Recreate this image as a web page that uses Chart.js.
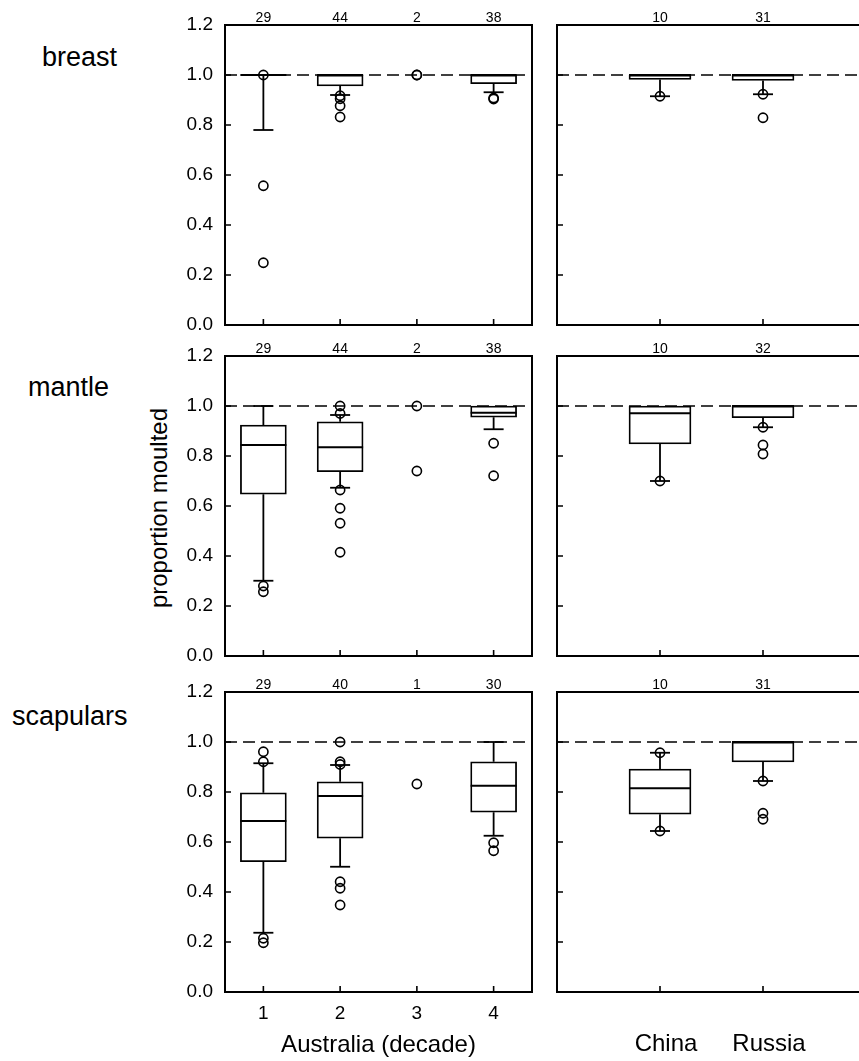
<!DOCTYPE html>
<html>
<head>
<meta charset="utf-8">
<title>proportion moulted</title>
<script src="https://cdn.jsdelivr.net/npm/chart.js@4.4.1/dist/chart.umd.min.js"></script>
<style>
  html, body { margin: 0; padding: 0; background: #fff; }
  body {
    position: relative;
    width: 859px;
    height: 1061px;
    overflow: hidden;
    font-family: "Liberation Sans", Arial, sans-serif;
    color: #000;
  }
  canvas { position: absolute; }
  .row-label { position: absolute; font-size: 27px; line-height: 27px; white-space: nowrap; }
  #yTitle {
    position: absolute;
    left: 9px;
    top: 496px;
    width: 300px;
    text-align: center;
    font-size: 24px;
    line-height: 24px;
    white-space: nowrap;
    transform: rotate(-90deg);
  }
</style>
</head>
<body>
<div class="row-label" style="left:42px; top:44px">breast</div>
<div class="row-label" style="left:28px; top:374px">mantle</div>
<div class="row-label" style="left:12px; top:703px">scapulars</div>
<div id="yTitle">proportion moulted</div>

<script>
"use strict";

// ---------- Data ----------
// every array: Australia decades 1-4, then China, Russia
const decades = ["1", "2", "3", "4"];
const regions = ["China", "Russia"];
const yTicks = [0, 0.2, 0.4, 0.6, 0.8, 1.0, 1.2];
const refValue = 1.0;

const breastN = [29, 44, 2, 38, 10, 31];
const breastLow = [0.78, 0.92, null, 0.931, 0.915, 0.923];
const breastQ1 = [1.0, 0.956, null, 0.965, 0.982, 0.978];
const breastMed = [1.0, 1.0, null, 1.0, 1.0, 1.0];
const breastQ3 = [1.0, 1.0, null, 1.0, 1.0, 1.0];
const breastHigh = [1.0, 1.0, null, 1.0, 1.0, 1.0];
const breastOut = [[1.0, 0.557, 0.249], [0.917, 0.905, 0.877, 0.832], [1.0, 1.0], [0.908, 0.904], [0.915], [0.923, 0.829]];

const mantleN = [29, 44, 2, 38, 10, 32];
const mantleLow = [0.301, 0.673, null, 0.907, 0.70, 0.915];
const mantleQ1 = [0.647, 0.737, null, 0.955, 0.848, 0.953];
const mantleMed = [0.844, 0.835, null, 0.973, 0.971, 1.0];
const mantleQ3 = [0.924, 0.937, null, 1.0, 1.0, 1.0];
const mantleHigh = [1.0, 0.964, null, 1.0, 1.0, 1.0];
const mantleOut = [[0.28, 0.257], [1.0, 0.97, 0.664, 0.591, 0.531, 0.415], [1.0, 0.74], [0.851, 0.721], [0.70], [0.915, 0.844, 0.808]];

const scapN = [29, 40, 1, 30, 10, 31];
const scapLow = [0.237, 0.501, null, 0.625, 0.644, 0.844];
const scapQ1 = [0.521, 0.615, null, 0.719, 0.711, 0.92];
const scapMed = [0.684, 0.784, null, 0.825, 0.815, 1.0];
const scapQ3 = [0.797, 0.841, null, 0.921, 0.892, 1.0];
const scapHigh = [0.915, 0.908, null, 1.0, 0.957, 1.0];
const scapOut = [[0.961, 0.921, 0.215, 0.197], [1.0, 0.921, 0.91, 0.441, 0.415, 0.348], [0.832], [0.597, 0.565], [0.957, 0.644], [0.844, 0.715, 0.691]];

const rows = [
  { n: breastN, low: breastLow, q1: breastQ1, med: breastMed, q3: breastQ3, high: breastHigh, out: breastOut },
  { n: mantleN, low: mantleLow, q1: mantleQ1, med: mantleMed, q3: mantleQ3, high: mantleHigh, out: mantleOut },
  { n: scapN, low: scapLow, q1: scapQ1, med: scapMed, q3: scapQ3, high: scapHigh, out: scapOut }
];

// ---------- Layout ----------
const FONT = '"Liberation Sans", Arial, sans-serif';
const PLOT_TOPS = [25, 356, 692];
const PLOT_H = 300;
const TOP_H = 25;
const PAD_RIGHT = 8;
const sides = {
  left: { cats: decades, first: 0, xMin: 0.5, xMax: 4.5, plotLeft: 225, plotRight: 532, canvasLeft: 160 },
  right: { cats: regions, first: 4, xMin: 0, xMax: 3, plotLeft: 557, plotRight: 866, canvasLeft: 545 }
};

Chart.defaults.font.family = FONT;
Chart.defaults.color = "#000";

// frame round the plot area + inward tick marks
const frameAndTicks = {
  id: "frameAndTicks",
  afterDraw(chart) {
    const { ctx, chartArea: a, scales } = chart;
    ctx.save();
    ctx.strokeStyle = "#000";
    ctx.lineWidth = 2;
    ctx.strokeRect(a.left, a.top, a.right - a.left, a.bottom - a.top);
    ctx.lineWidth = 1.6;
    ctx.beginPath();
    for (const v of yTicks) {
      const y = scales.y.getPixelForValue(v);
      ctx.moveTo(a.left, y);
      ctx.lineTo(a.left + 6, y);
    }
    for (const t of scales.x.ticks) {
      const x = scales.x.getPixelForValue(t.value);
      ctx.moveTo(x, a.bottom);
      ctx.lineTo(x, a.bottom - 6);
    }
    ctx.stroke();
    ctx.restore();
  }
};

function makePanel(rowIdx, sideKey) {
  const side = sides[sideKey];
  const row = rows[rowIdx];
  const isBottom = rowIdx === rows.length - 1;
  const count = side.cats.length;
  const pick = arr => arr.slice(side.first, side.first + count);

  const xs = side.cats.map((_, i) => i + 1);
  const n = pick(row.n), low = pick(row.low), q1 = pick(row.q1), med = pick(row.med);
  const q3 = pick(row.q3), high = pick(row.high), out = pick(row.out);

  const unit = (side.plotRight - side.plotLeft) / (side.xMax - side.xMin);
  const boxW = Math.round(unit * 0.6);

  const boxes = [], medians = [], whiskers = [], caps = [], outliers = [];
  xs.forEach((x, i) => {
    out[i].forEach(v => outliers.push({ x, y: v }));
    if (q1[i] == null) return;
    boxes.push({ x, y: [q1[i], q3[i]] });
    medians.push({ x, y: med[i] });
    if (high[i] > q3[i]) {
      whiskers.push({ x, y: q3[i] }, { x, y: high[i] }, { x, y: null });
      caps.push({ x, y: high[i] });
    }
    if (low[i] < q1[i]) {
      whiskers.push({ x, y: q1[i] }, { x, y: low[i] }, { x, y: null });
      caps.push({ x, y: low[i] });
    }
  });

  const plotTop = PLOT_TOPS[rowIdx];
  // room below the plot: must exceed the y labels' half height + padding
  const bottomH = isBottom ? 69 : 26;
  const canvasTop = plotTop - TOP_H;
  const canvasW = side.plotRight + PAD_RIGHT - side.canvasLeft;
  const canvasH = plotTop + PLOT_H + bottomH - canvasTop;
  const yW = side.plotLeft - side.canvasLeft;

  const canvas = document.createElement("canvas");
  canvas.width = canvasW;
  canvas.height = canvasH;
  canvas.style.left = side.canvasLeft + "px";
  canvas.style.top = canvasTop + "px";
  canvas.style.width = canvasW + "px";
  canvas.style.height = canvasH + "px";
  document.body.appendChild(canvas);

  const setTicks = scale => { scale.ticks = xs.map(v => ({ value: v })); };

  new Chart(canvas, {
    type: "scatter",
    data: {
      datasets: [
        {
          type: "scatter", data: outliers,
          pointStyle: "circle", pointRadius: 4.6,
          pointBorderWidth: 1.6, pointBorderColor: "#000", pointBackgroundColor: "rgba(0,0,0,0)"
        },
        {
          type: "scatter", data: caps,
          pointStyle: "line", pointRadius: 10,
          pointBorderWidth: 1.8, pointBorderColor: "#000"
        },
        {
          type: "scatter", data: medians,
          pointStyle: "line", pointRadius: boxW / 2,
          pointBorderWidth: 1.8, pointBorderColor: "#000"
        },
        {
          type: "line", data: whiskers, spanGaps: false,
          borderColor: "#000", borderWidth: 1.8, pointRadius: 0
        },
        {
          type: "bar", data: boxes, barThickness: boxW,
          backgroundColor: "#fff", borderColor: "#000", borderWidth: 1.8, borderSkipped: false
        },
        {
          type: "line", data: [{ x: side.xMin, y: refValue }, { x: side.xMax, y: refValue }],
          borderColor: "#000", borderWidth: 1.6, borderDash: [12, 6], pointRadius: 0
        }
      ]
    },
    options: {
      responsive: false,
      animation: false,
      events: [],
      layout: { autoPadding: false, padding: { left: 0, right: PAD_RIGHT, top: 0, bottom: 0 } },
      plugins: { legend: { display: false }, tooltip: { enabled: false } },
      scales: {
        x: {
          type: "linear", position: "bottom",
          min: side.xMin, max: side.xMax, offset: false,
          grid: { display: false, drawTicks: false }, border: { display: false },
          afterBuildTicks: setTicks,
          afterFit: s => { s.height = bottomH; },
          ticks: {
            display: isBottom,
            autoSkip: false, maxRotation: 0,
            padding: sideKey === "left" ? 10 : 37.5,
            labelOffset: sideKey === "left" ? 0 : 6,
            font: { size: sideKey === "left" ? 19 : 24 },
            callback: v => side.cats[Math.round(v) - 1]
          },
          title: {
            display: isBottom && sideKey === "left",
            text: "Australia (decade)",
            font: { size: 24 },
            padding: { top: 0, bottom: 1 }
          }
        },
        xTop: {
          type: "linear", position: "top",
          min: side.xMin, max: side.xMax, offset: false,
          grid: { display: false, drawTicks: false }, border: { display: false },
          afterBuildTicks: setTicks,
          afterFit: s => { s.height = TOP_H; },
          ticks: {
            autoSkip: false, maxRotation: 0, padding: -1.5,
            font: { size: 14 },
            callback: v => n[Math.round(v) - 1]
          }
        },
        y: {
          type: "linear", position: "left",
          min: 0, max: 1.2,
          grid: { display: false, drawTicks: false }, border: { display: false },
          afterBuildTicks: scale => { scale.ticks = yTicks.map(v => ({ value: v })); },
          afterFit: s => { s.width = yW; },
          ticks: {
            display: sideKey === "left",
            padding: 12,
            font: { size: 19 },
            callback: v => v.toFixed(1)
          }
        }
      }
    },
    plugins: [frameAndTicks]
  });
}

// ---------- Init ----------
for (let r = 0; r < rows.length; r++) {
  makePanel(r, "left");
  makePanel(r, "right");
}
</script>
</body>
</html>
